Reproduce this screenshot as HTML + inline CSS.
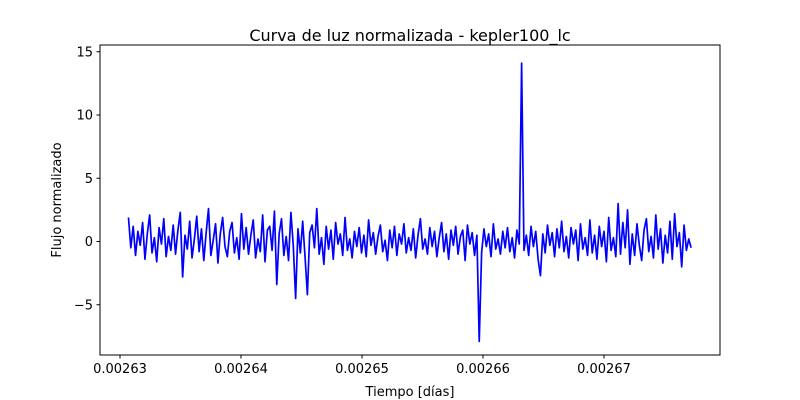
<!DOCTYPE html>
<html><head><meta charset="utf-8"><style>
html,body{margin:0;padding:0;background:#fff;width:800px;height:400px;overflow:hidden}
svg text{font-family:"DejaVu Sans","Liberation Sans",sans-serif;fill:#000}
</style></head><body>
<svg id="chart" width="800" height="400">
<text x="410" y="41" font-size="16" text-anchor="middle">Curva de luz normalizada - kepler100_lc</text>
<text x="410" y="396" font-size="13" text-anchor="middle">Tiempo [días]</text>
<text x="0" y="0" font-size="13" text-anchor="middle" transform="translate(61,200) rotate(-90)">Flujo normalizado</text>
<g id="ticks"></g>
<clipPath id="clip"><rect x="100" y="45" width="620" height="310"/></clipPath>
<path id="series" fill="none" stroke="#0000ff" stroke-width="1.7" stroke-linejoin="round" clip-path="url(#clip)"/>
<rect x="100" y="45" width="620" height="310" fill="none" stroke="#000" stroke-width="1"/>
</svg>
<script>
const tStart = 0.0026307;
const tEnd = 0.0026772;
const flux = [1.9,-0.5,1.2,-1.1,0.8,-0.3,1.5,-1.4,0.6,2.1,-0.9,0.3,-1.6,1.1,-0.2,1.8,-1.2,0.4,-0.7,1.3,
-1.0,0.9,2.3,-2.8,0.5,-0.6,1.6,-1.3,0.2,2.0,-0.8,1.0,-1.5,0.7,2.6,-1.1,0.1,1.4,-1.7,0.6,
1.9,-0.4,-1.2,0.8,1.5,-0.9,0.3,-1.4,2.2,-0.6,1.1,-1.0,0.5,1.7,-1.3,0.2,-0.8,2.1,-1.6,0.9,
1.2,-0.7,2.4,-3.4,0.6,1.8,-1.1,0.4,-1.5,2.3,-0.3,-4.5,1.0,-0.9,1.6,-1.2,-4.2,0.7,1.3,-0.5,
2.6,-1.0,0.3,-1.8,1.2,-0.6,0.9,-1.4,1.5,-0.2,0.6,-1.1,1.9,-0.7,0.2,-1.3,0.8,-0.4,1.1,-0.9,
0.5,-1.2,1.7,-0.3,0.7,-1.0,0.4,1.3,-0.8,0.1,-1.5,0.9,-0.5,1.2,-1.1,0.6,-0.2,1.4,-0.9,0.3,
-0.7,1.0,-1.3,0.5,1.8,-0.6,0.2,-1.0,1.1,-0.4,0.8,-1.2,0.3,1.5,-0.8,0.6,-1.4,0.9,-0.3,1.2,
-1.0,0.4,0.9,-1.5,1.3,-0.2,0.7,-1.1,0.5,-7.9,-0.9,1.0,-0.4,0.6,-1.2,1.4,-0.6,0.2,-1.0,0.8,
-0.5,1.1,-0.8,0.3,-1.3,0.9,-0.2,14.1,-0.7,0.5,-1.1,1.2,-0.4,0.8,-1.4,-2.7,0.6,-0.9,1.3,-0.3,
0.7,-1.2,1.0,-0.5,1.6,-0.8,0.4,-1.3,1.1,-0.2,0.9,-1.5,1.4,-0.6,0.3,-1.1,1.7,-0.9,0.5,-1.4,
1.2,-0.4,0.8,-1.6,1.9,-0.7,0.3,-1.2,3.0,-1.0,1.5,-0.5,2.5,-1.8,0.6,-1.1,1.4,-0.3,-1.5,0.9,
1.8,-0.8,0.4,-1.3,2.1,-0.6,1.0,-1.7,0.5,-0.9,1.6,-1.4,2.2,-0.4,0.7,-2.0,1.3,-0.7,0.2,-0.5];
const xTicks = [0.00263,0.00264,0.00265,0.00266,0.00267];
const xTickLabels = ["0.00263","0.00264","0.00265","0.00266","0.00267"];
const yTicks = [-5,0,5,10,15];
const yTickLabels = ["−5","0","5","10","15"];

const X0=0.00263, XPX0=120, XPX_PER=12100000;
const xs = t => XPX0 + (t - X0) * XPX_PER;
const ys = v => 241.5 - v * 12.65;
const NS='http://www.w3.org/2000/svg';
const g=document.getElementById('ticks');
xTicks.forEach((t,i)=>{
  const x=xs(t);
  const l=document.createElementNS(NS,'line');
  l.setAttribute('x1',x);l.setAttribute('x2',x);l.setAttribute('y1',355);l.setAttribute('y2',358.5);l.setAttribute('stroke','#000');
  
  
  g.appendChild(l);
  const tx=document.createElementNS(NS,'text');
  tx.setAttribute('x',x);tx.setAttribute('y',373);tx.setAttribute('font-size','13');tx.setAttribute('text-anchor','middle');
  tx.textContent=xTickLabels[i];
  
  
  g.appendChild(tx);
});
yTicks.forEach((v,i)=>{
  const y=ys(v);
  const l=document.createElementNS(NS,'line');
  l.setAttribute('x1',96.5);l.setAttribute('x2',100);l.setAttribute('y1',y);l.setAttribute('y2',y);l.setAttribute('stroke','#000');
  
  
  g.appendChild(l);
  const tx=document.createElementNS(NS,'text');
  tx.setAttribute('x',93);tx.setAttribute('y',y+4.5);tx.setAttribute('font-size','13');tx.setAttribute('text-anchor','end');
  tx.textContent=yTickLabels[i];
  
  
  g.appendChild(tx);
});
const n=flux.length;
let d='';
flux.forEach((v,i)=>{
  const t=tStart+(tEnd-tStart)*i/(n-1);
  d+=(i?'L':'M')+xs(t).toFixed(2)+','+ys(v).toFixed(2);
});
document.getElementById('series').setAttribute('d',d);
</script>
</body></html>
